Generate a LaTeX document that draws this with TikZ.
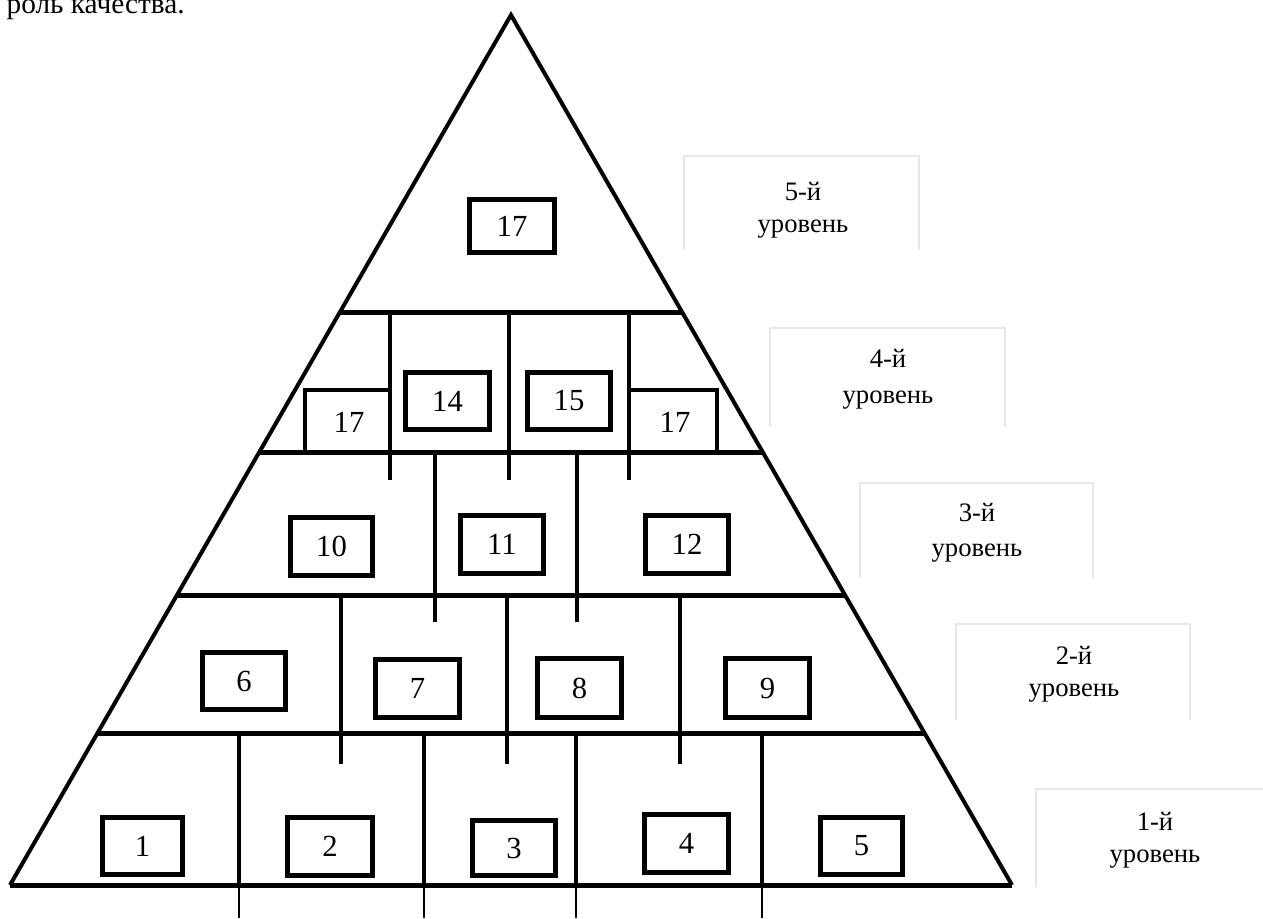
\documentclass[tikz,border=0pt]{standalone}
\usepackage{fontspec}
\setmainfont{Liberation Serif}
\usetikzlibrary{calc}

\tikzset{
  outline/.style={line width=3pt, line join=miter},
  tier/.style={line width=3.75pt},
  post/.style={line width=3pt},
  tail/.style={line width=1.5pt},
  frame/.style={line width=0.9pt, draw=black!9},
  numbox/.style 2 args={draw, line width=3.5pt, inner sep=0pt,
    minimum width={#1*0.75pt-3.5pt}, minimum height={#2*0.75pt-3.5pt},
    font=\fontsize{23}{23}\selectfont},
  numtext/.style={inner sep=0pt, font=\fontsize{23}{23}\selectfont},
  lvl/.style={anchor=base, inner sep=0pt, font=\fontsize{20}{20}\selectfont},
}

\begin{document}
\begin{tikzpicture}[x=0.75pt, y=-0.75pt]
\useasboundingbox (0,0) rectangle (1263,918);

% line of running text cut by the page top
\node[anchor=base east, inner sep=0pt, font=\fontsize{22}{22}\selectfont] (caption) at (185,13) {роль качества.};

% pyramid outline
\coordinate (apex) at (511,15);
\coordinate (bl) at (10,885);
\coordinate (br) at (1012,885);
\draw[outline] (bl) -- (apex) -- (br);

% tier boundaries
\draw[tier] ($(apex)!0.3414!(bl)$) -- ($(apex)!0.3414!(br)$);
\draw[tier] ($(apex)!0.5034!(bl)$) -- ($(apex)!0.5034!(br)$);
\draw[tier] ($(apex)!0.6667!(bl)$) -- ($(apex)!0.6667!(br)$);
\draw[tier] ($(apex)!0.8253!(bl)$) -- ($(apex)!0.8253!(br)$);
\draw[tier] (bl) -- (br);

% level 4 partitions
\foreach \x in {390,509,629} \draw[post] (\x,312) -- (\x,480);
\draw[post] (305,453) -- (305,390) -- (390,390);
\draw[post] (629,390) -- (717,390) -- (717,453);

% level 3 partitions
\foreach \x in {435,577} \draw[post] (\x,453) -- (\x,622);

% level 2 partitions
\foreach \x in {341,507,680} \draw[post] (\x,595) -- (\x,764);

% level 1 partitions and their tails
\foreach \x in {239,424,576,762} {
  \draw[post] (\x,733) -- (\x,885);
  \draw[tail] (\x,885) -- (\x,918);
}

% level 5
\node[numbox={90}{58}] (n17) at (512,226) {17};

% level 4
\node[numtext] (n17a) at (349,422) {17};
\node[numbox={89}{62}] (n14) at (447.5,401) {14};
\node[numbox={88}{62}] (n15) at (569,401) {15};
\node[numtext] (n17b) at (675,422) {17};

% level 3
\node[numbox={87}{63}] (n10) at (331.5,546.5) {10};
\node[numbox={88}{63}] (n11) at (502,544.5) {11};
\node[numbox={88}{63}] (n12) at (687,544.5) {12};

% level 2
\node[numbox={88}{62}] (n6) at (244,681) {6};
\node[numbox={89}{63}] (n7) at (417.5,688.5) {7};
\node[numbox={89}{64}] (n8) at (579.5,688) {8};
\node[numbox={89}{64}] (n9) at (767.5,688) {9};

% level 1
\node[numbox={85}{62}] (n1) at (142.5,846) {1};
\node[numbox={90}{63}] (n2) at (330,846.5) {2};
\node[numbox={88}{60}] (n3) at (514,848) {3};
\node[numbox={89}{63}] (n4) at (686.5,843.5) {4};
\node[numbox={87}{62}] (n5) at (861.5,846) {5};

% level captions with their faint frames
\draw[frame] (684,250) -- (684,156) -- (919,156) -- (919,250);
\node[lvl] (l5a) at (803,200) {5-й};
\node[lvl] (l5b) at (803,232) {уровень};

\draw[frame] (770,427) -- (770,328) -- (1005,328) -- (1005,427);
\node[lvl] (l4a) at (888,367) {4-й};
\node[lvl] (l4b) at (888,403) {уровень};

\draw[frame] (860,578) -- (860,483) -- (1093,483) -- (1093,578);
\node[lvl] (l3a) at (977,521) {3-й};
\node[lvl] (l3b) at (977,556) {уровень};

\draw[frame] (956,720) -- (956,624) -- (1190,624) -- (1190,720);
\node[lvl] (l2a) at (1074,664) {2-й};
\node[lvl] (l2b) at (1074,696) {уровень};

\draw[frame] (1036,887) -- (1036,789) -- (1263,789);
\node[lvl] (l1a) at (1155,830) {1-й};
\node[lvl] (l1b) at (1155,862) {уровень};
\end{tikzpicture}
\end{document}
